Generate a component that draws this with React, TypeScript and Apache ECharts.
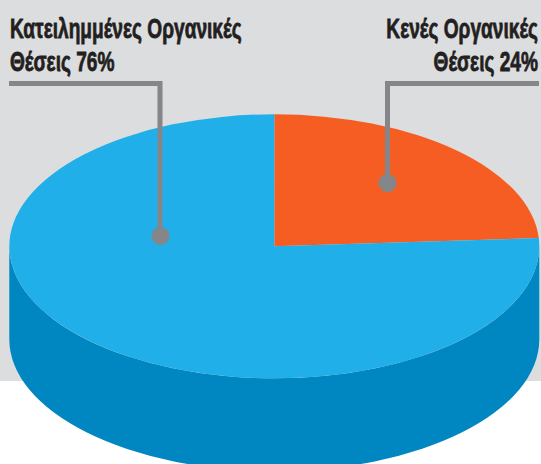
import React, { useEffect, useRef } from "react";
import * as echarts from "echarts";

const sliceNames = ["Κενές Οργανικές θέσεις", "Κατειλημμένες Οργανικές θέσεις"];
const sliceValues = [24, 76];
const sliceColors = ["#f55d22", "#20afe8"];
const sideColor = "#0086c0";
const backdropColor = "#dcdddf";
const leaderColor = "#848689";
const labelColor = "#231f20";
const labelLeft = ["Κατειλημμένες Οργανικές", "Θέσεις 76%"];
const labelRight = ["Κενές Οργανικές", "Θέσεις 24%"];

const W = 541;
const H = 464;
const CX = 274.3;
const CY = 246.3;
const RX = 265;
const RY = 132;
const DEPTH = 93;
const TOTAL = sliceValues.reduce((a, b) => a + b, 0);

function pt(a: number) {
  return [CX + RX * Math.sin(a), CY - RY * Math.cos(a)];
}

function renderSlice(params: any, api: any) {
  const idx = params.dataIndex;
  const before = sliceValues.slice(0, idx).reduce((a, b) => a + b, 0);
  const value = api.value(0);
  const a0 = (before / TOTAL) * 2 * Math.PI;
  const a1 = ((before + value) / TOTAL) * 2 * Math.PI;
  const [x0, y0] = pt(a0);
  const [x1, y1] = pt(a1);
  const large = a1 - a0 > Math.PI ? 1 : 0;
  const d = `M${CX} ${CY}L${x0} ${y0}A${RX} ${RY} 0 ${large} 1 ${x1} ${y1}Z`;
  return {
    type: "path",
    shape: { pathData: d },
    style: { fill: sliceColors[idx] },
  };
}

function renderSide() {
  const l = CX - RX;
  const r = CX + RX;
  const d = `M${l} ${CY}L${l} ${CY + DEPTH}A${RX} ${RY} 0 0 0 ${r} ${CY + DEPTH}L${r} ${CY}A${RX} ${RY} 0 0 1 ${l} ${CY}Z`;
  return {
    type: "path",
    shape: { pathData: d },
    style: { fill: sideColor },
  };
}

const FONT = '"Liberation Sans", sans-serif';

function label(text: string, x: number, y: number, align: "left" | "right") {
  return {
    type: "text",
    z: 20,
    x,
    y,
    scaleX: 0.683,
    style: {
      text,
      fill: labelColor,
      stroke: labelColor,
      lineWidth: 0.8,
      font: `bold 28px ${FONT}`,
      textAlign: align,
      textVerticalAlign: "middle",
    },
  };
}

export default function App() {
  const ref = useRef<HTMLDivElement>(null);
  useEffect(() => {
    document.body.style.margin = "0";
    const chart = echarts.init(ref.current!, undefined, { renderer: "svg" });
    chart.setOption({
      animation: false,
      backgroundColor: "#ffffff",
      graphic: {
        elements: [
          { type: "rect", z: 0, silent: true, shape: { x: 0, y: 0, width: W, height: 381 }, style: { fill: backdropColor } },
          { type: "polyline", z: 20, shape: { points: [[9, 83.5], [160, 83.5], [160, 236]] }, style: { fill: "none", stroke: leaderColor, lineWidth: 5 } },
          { type: "circle", z: 20, shape: { cx: 160.5, cy: 236, r: 9 }, style: { fill: leaderColor } },
          { type: "polyline", z: 20, shape: { points: [[539, 83.5], [387.5, 83.5], [387.5, 183]] }, style: { fill: "none", stroke: leaderColor, lineWidth: 5 } },
          { type: "circle", z: 20, shape: { cx: 387.5, cy: 183, r: 9 }, style: { fill: leaderColor } },
          label(labelLeft[0], 10, 28, "left"),
          label(labelLeft[1], 10, 61, "left"),
          label(labelRight[0], 538, 28, "right"),
          label(labelRight[1], 538, 61, "right"),
        ],
      },
      series: [
        { type: "custom", coordinateSystem: "none", z: 2, silent: true, renderItem: renderSide, data: [0] },
        {
          type: "custom",
          coordinateSystem: "none",
          z: 3,
          silent: true,
          renderItem: renderSlice,
          data: sliceValues.map((value, i) => ({ name: sliceNames[i], value })),
        },
      ],
    });
    return () => chart.dispose();
  }, []);
  return <div ref={ref} style={{ width: W, height: H }} />;
}
